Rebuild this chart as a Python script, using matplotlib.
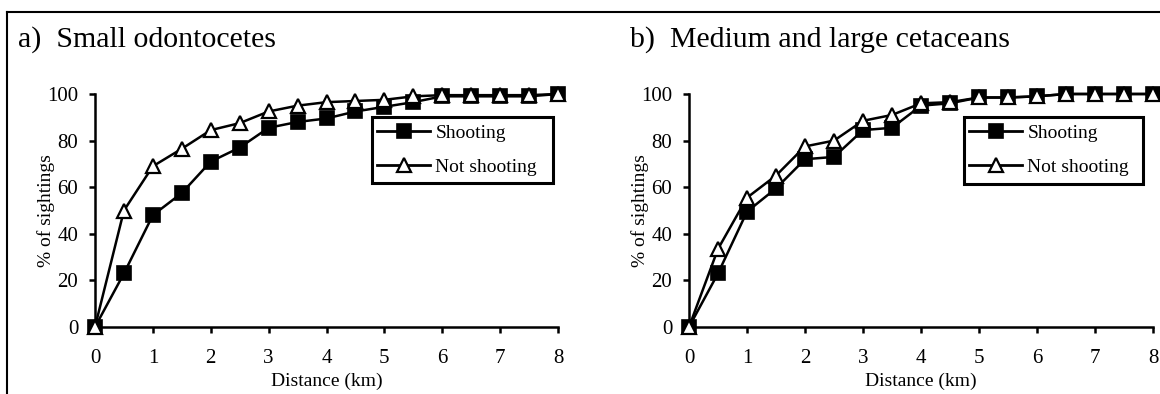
import matplotlib
matplotlib.use("Agg")
import matplotlib.pyplot as plt
from matplotlib.lines import Line2D
from matplotlib.patches import Rectangle

distance = [0, 0.5, 1, 1.5, 2, 2.5, 3, 3.5, 4, 4.5, 5, 5.5, 6, 6.5, 7, 7.5, 8]

small_shooting = [0, 23, 48, 57.5, 71, 77, 85.5, 88, 89.5, 92.5, 94.5, 96.5, 99, 99, 99, 99, 100]
small_not_shooting = [0, 50, 69, 76.5, 84.5, 87.5, 92.5, 95, 96.5, 97, 97.5, 99, 99.5, 99.5, 99.5, 99.5, 100]

large_shooting = [0, 23, 49.5, 59.5, 72, 73, 84.5, 85.5, 95, 96, 98.5, 98.5, 99, 100, 100, 100, 100]
large_not_shooting = [0, 33.5, 55.5, 65, 77.5, 80, 88.5, 91, 96, 96.5, 98.5, 98.5, 99, 100, 100, 100, 100]

titles = ["a)  Small odontocetes", "b)  Medium and large cetaceans"]
series_labels = ["Shooting", "Not shooting"]
x_ticks = [0, 1, 2, 3, 4, 5, 6, 7, 8]
y_ticks = [0, 20, 40, 60, 80, 100]

plt.rcParams['font.family'] = ['Liberation Serif', 'DejaVu Serif']

W, H = 1160, 394
fig = plt.figure(figsize=(W / 100, H / 100), dpi=100)

def px_axes(left, right, top, bottom):
    return fig.add_axes([left / W, 1 - bottom / H, (right - left) / W, (bottom - top) / H])

ax_a = px_axes(95, 558, 94, 327)
ax_b = px_axes(689, 1153, 94, 327)

# (axes, series..., title, title x px, legend box px (left, right, top, bottom), axes px (left, width))
panels = [
    (ax_a, small_shooting, small_not_shooting, titles[0], 18, (372, 553, 117, 183), (95, 463)),
    (ax_b, large_shooting, large_not_shooting, titles[1], 630, (964, 1143, 117, 184), (689, 464)),
]

for ax, shoot, notshoot, title, tx, box, axpx in panels:
    ax.plot(distance, shoot, color='black', lw=1.8, marker='s', markersize=9.5,
            markerfacecolor='black', markeredgecolor='black', markeredgewidth=1.2,
            label=series_labels[0], clip_on=False, zorder=3)
    ax.plot(distance, notshoot, color='black', lw=1.8, marker='^', markersize=10.5,
            markerfacecolor='white', markeredgecolor='black', markeredgewidth=1.6,
            label=series_labels[1], clip_on=False, zorder=4)
    ax.set_xlim(0, 8)
    ax.set_ylim(0, 100)
    ax.set_xticks(x_ticks)
    ax.set_yticks(y_ticks)
    for s in ['top', 'right']:
        ax.spines[s].set_visible(False)
    for s in ['left', 'bottom']:
        ax.spines[s].set_linewidth(1.8)
    ax.tick_params(axis='both', direction='out', length=4, width=1.8, labelsize=15)
    ax.tick_params(axis='x', pad=12)
    ax.tick_params(axis='y', pad=8)
    ax.set_xlabel("Distance (km)", fontsize=14, labelpad=3)
    ax.set_ylabel("% of sightings", fontsize=14)
    ax.yaxis.set_label_coords(-40 / axpx[1], 0.5)

    bl, br, bt, bb = box
    x0 = (bl - axpx[0]) / axpx[1]
    x1 = (br - axpx[0]) / axpx[1]
    y_top = (327 - bt) / 233
    y_bot = (327 - bb) / 233
    ax.add_patch(Rectangle((x0, y_bot), x1 - x0, y_top - y_bot, transform=ax.transAxes,
                           fill=True, facecolor='white', edgecolor='black', lw=2.2,
                           clip_on=False, zorder=5))
    leg = ax.legend(loc='upper left', bbox_to_anchor=(x0 + 5 / axpx[1], y_top - 7 / 233),
                    fontsize=14, frameon=False, handlelength=2.75, handletextpad=0.25,
                    borderpad=0.0, labelspacing=0.85, borderaxespad=0.0)
    leg.set_zorder(6)
    for line in leg.get_lines():
        line.set_linewidth(2.0)
    fig.text(tx / W, 1 - 47 / H, title, fontsize=21.5, ha='left', va='baseline')

# outer frame (top and left edges)
fig.add_artist(Line2D([7 / W, 1], [1 - 12 / H, 1 - 12 / H], color='black', lw=1.5,
                      transform=fig.transFigure))
fig.add_artist(Line2D([7 / W, 7 / W], [0, 1 - 12 / H], color='black', lw=1.5,
                      transform=fig.transFigure))

fig.savefig("out.png", dpi=100)
